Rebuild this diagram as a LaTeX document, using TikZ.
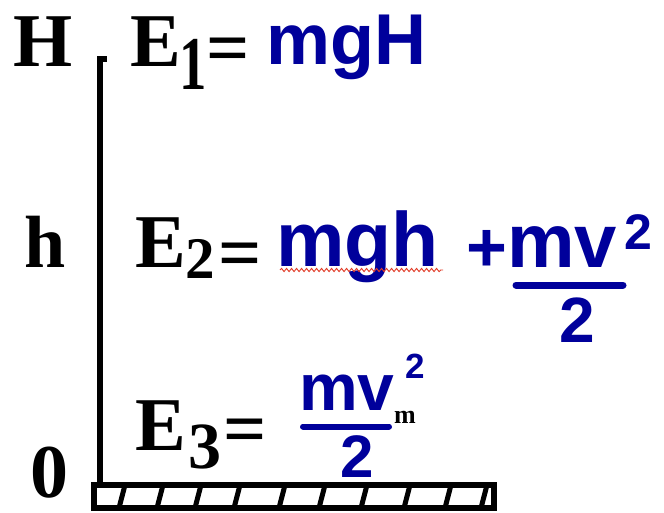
\documentclass[tikz,border=0pt]{standalone}
\usepackage{graphicx}
\usepackage{fontspec}
\setmainfont{Liberation Serif}
\newfontfamily\bsans{Liberation Sans}
\usetikzlibrary{decorations.pathmorphing}
\definecolor{dblue}{RGB}{0,0,155}
\definecolor{wavyred}{RGB}{225,60,40}
\begin{document}
\begin{tikzpicture}[x=1pt,y=-1pt,
  bk/.style={inner sep=0pt,outer sep=0pt,anchor=base west,text=black,
    font={\fontsize{#1}{#1}\selectfont\bfseries}},
  bl/.style={inner sep=0pt,outer sep=0pt,anchor=base west,text=dblue,
    font={\fontsize{#1}{#1}\bsans\bfseries}},
  blc/.style={bl=#1,anchor=base},
  fracbar/.style={line width=7pt,draw=dblue,line cap=round},
  axisline/.style={line width=6pt,draw=black},
  groundbox/.style={line width=6pt,draw=black},
  hatch/.style={line width=5pt,draw=black},
  wavy/.style={draw=wavyred,line width=0.9pt,decorate,
    decoration={snake,amplitude=1.6pt,segment length=5pt}}]
\useasboundingbox (0,0) rectangle (664,513);
\fill[white] (0,0) rectangle (664,513);

% axis and ground
\coordinate (axtop) at (100,57);
\coordinate (axbot) at (100,485);
\draw[axisline] (axbot) -- (axtop);
\fill[black] (97,56) rectangle (107,62);
\coordinate (g1) at (94,485);
\coordinate (g2) at (494,508);
\draw[groundbox] (g1) rectangle (g2);
\foreach \gx in {122,160,198,237,282,322,364,407,448,484}{
  \draw[hatch] (\gx-3,508) -- (\gx+3,485);
}

% left labels
\node[bk=76] (H) at (13.5,67) {H};
\node[bk=74] (h) at (24,267) {h};
\node[bk=76] (zero) at (30,497) {0};

% line 1
\node[bk=76] (E1) at (130,67) {E};
\node[bk=76] (s1) at (179,90) {\scalebox{0.72}[1]{1}};
\node[bk=76] (eq1) at (206,73.5) {=};
\node[bl=72] (mgH) at (266,65) {mgH};

% line 2
\node[bk=76] (E2) at (135,268) {E};
\node[bk=59] (s2) at (185,278) {2};
\node[bk=76] (eq2) at (218,278) {=};
\node[bl=77] (mgh) at (276,266) {mgh};
\coordinate (wa) at (280,270);
\coordinate (wb) at (443,270);
\draw[wavy] (wa) -- (wb);
\node[bl=70] (plus) at (466,271) {+};
\node[bl=76] (mv2) at (507,268) {mv};
\node[bl=50] (sq2) at (624,250) {2};
\coordinate (b2a) at (516,285);
\coordinate (b2b) at (623,285);
\draw[fracbar] (b2a) -- (b2b);
\node[blc=64] (den2) at (577,342) {2};

% line 3
\node[bk=76] (E3) at (135,450) {E};
\node[bk=66] (s3) at (188,468) {3};
\node[bk=76] (eq3) at (223,454.5) {=};
\node[bl=66] (mv3) at (299,410) {mv};
\node[bl=35] (sq3) at (405,378) {2};
\node[bk=26] (msub) at (394,423) {m};
\coordinate (b3a) at (303,426.5);
\coordinate (b3b) at (389,426.5);
\draw[fracbar,line width=6pt] (b3a) -- (b3b);
\node[blc=60] (den3) at (357,477) {2};
\end{tikzpicture}
\end{document}
